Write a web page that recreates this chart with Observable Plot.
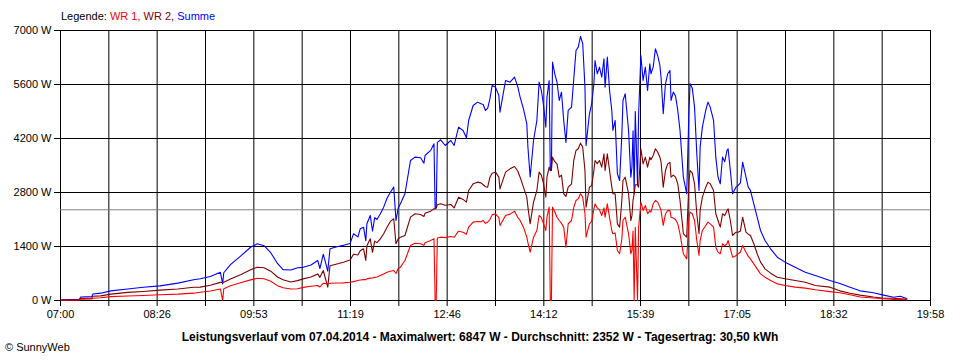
<!DOCTYPE html>
<html>
<head>
<meta charset="utf-8">
<script src="https://cdn.jsdelivr.net/npm/d3@7"></script>
<script src="https://cdn.jsdelivr.net/npm/@observablehq/plot@0.6"></script>
<style>
  body { margin: 0; background: #fff; font-family: "Liberation Sans", Arial, sans-serif; }
  #wrap { position: relative; width: 960px; height: 360px; overflow: hidden; }
  #chart { position: absolute; left: 0; top: 0; }
  .legend { position: absolute; left: 61px; top: 10px; font-size: 11px; line-height: 13px; white-space: nowrap; }
  .caption { position: absolute; left: 0; top: 330px; width: 960px; text-align: center; font-size: 12px; font-weight: bold; line-height: 14px; white-space: nowrap; }
  .copy { position: absolute; left: 5px; top: 341px; font-size: 11px; line-height: 13px; }
</style>
</head>
<body>
<div id="wrap">
  <div id="chart"></div>
  <div class="legend"><span style="color:#000">Legende: </span><span style="color:#ff0000">WR 1, </span><span style="color:#800000">WR 2, </span><span style="color:#0000ff">Summe</span></div>
  <div class="caption">Leistungsverlauf vom 07.04.2014 - Maximalwert: 6847 W - Durchschnitt: 2352 W - Tagesertrag: 30,50 kWh</div>
  <div class="copy">© SunnyWeb</div>
</div>
<script>
const times = ["07:01","07:17","07:18","07:28","07:29","07:36","07:45","08:00","08:14","08:29","08:45","08:59","09:05","09:14","09:23","09:25","09:26","09:32","09:41","09:50","09:56","10:02","10:08","10:14","10:19","10:26","10:32","10:37","10:44","10:50","10:52","10:55","10:59","11:01","11:08","11:13","11:19","11:22","11:26","11:28","11:31","11:33","11:34","11:37","11:39","11:41","11:43","11:46","11:49","11:52","11:55","11:58","12:00","12:02","12:04","12:08","12:13","12:17","12:22","12:25","12:26","12:31","12:34","12:35","12:36","12:37","12:40","12:44","12:49","12:52","12:56","13:00","13:03","13:05","13:09","13:13","13:16","13:18","13:20","13:22","13:24","13:26","13:29","13:32","13:33","13:38","13:42","13:46","13:49","13:51","13:54","13:57","13:58","14:00","14:03","14:06","14:08","14:10","14:12","14:14","14:15","14:17","14:18","14:19","14:20","14:22","14:24","14:26","14:28","14:30","14:32","14:34","14:37","14:39","14:41","14:43","14:45","14:47","14:49","14:50","14:53","14:55","14:57","14:58","15:00","15:02","15:04","15:06","15:07","15:09","15:11","15:13","15:14","15:16","15:18","15:20","15:22","15:23","15:25","15:28","15:30","15:31","15:32","15:33","15:34","15:36","15:37","15:39","15:41","15:43","15:45","15:47","15:48","15:50","15:52","15:54","15:56","15:57","15:59","16:01","16:03","16:05","16:06","16:08","16:10","16:12","16:14","16:17","16:20","16:22","16:23","16:25","16:27","16:29","16:31","16:32","16:34","16:37","16:39","16:41","16:44","16:46","16:48","16:50","16:52","16:54","16:56","16:57","16:59","17:01","17:04","17:06","17:08","17:10","17:13","17:15","17:17","17:20","17:23","17:26","17:30","17:35","17:41","17:48","17:57","18:06","18:15","18:28","18:37","18:46","18:55","19:07","19:16","19:25","19:31","19:36","19:37"];

const summe = [20,30,90,100,170,190,250,300,345,380,450,540,562,620,730,430,720,930,1150,1380,1470,1420,1240,960,800,790,850,860,920,1037,830,1200,760,1340,1400,1430,1480,1729,1650,1858,1900,1550,1988,2204,1800,2150,2100,2248,2420,2650,2808,2938,2074,2400,2507,2766,3630,3716,3700,3560,3760,3890,4063,2377,2400,4100,4166,4019,4149,4019,4494,4408,4218,4667,5056,5143,5100,5080,4927,4980,5230,5575,5531,5316,4883,5705,5661,5791,5531,5273,4970,4581,3975,3200,4149,4667,5661,5445,5056,4494,5273,5705,3371,3371,6179,5878,5661,5186,5400,4667,4100,4927,5013,5748,6482,6569,6847,6656,5531,4019,4841,5100,5618,6223,5878,6050,5791,6267,5531,6309,5445,4927,4408,4667,3285,3111,4300,5186,5359,4408,3197,3457,4400,2766,4900,3000,4841,6353,5705,6050,5445,6137,5878,6050,6526,6353,6093,5800,4841,5618,5878,5964,5186,5402,5300,4927,4408,3197,2766,4927,5618,5500,5013,3803,2852,3975,4494,4927,5143,5013,4667,3716,3197,3025,3716,3600,3890,3933,3371,2766,2938,2982,3050,3586,3197,2938,2852,2507,2160,1815,1556,1340,1123,994,864,734,648,519,441,346,250,200,140,86,112,60,40];

const wr2 = [12,18,55,60,110,120,165,210,235,270,300,345,346,395,470,470,475,560,670,795,864,850,760,610,540,480,515,560,610,690,600,778,346,900,951,994,1050,1200,1180,1290,1340,1040,1420,1599,1250,1540,1500,1599,1729,1900,2050,2118,1470,1600,1642,1685,2160,2248,2230,2180,2260,2316,2377,2377,2400,2480,2507,2470,2490,2400,2679,2620,2549,2852,3025,3068,3050,3000,2950,2938,3197,3300,3327,3200,2895,3327,3414,3474,3350,3197,2938,2679,2420,1988,2549,2852,3327,3250,3025,2679,3197,3457,3371,3371,3716,3600,3543,3197,3250,2766,2700,2938,3025,3630,3890,3933,4079,3975,3371,2420,2938,2980,3371,3630,3550,3630,3457,3803,3371,3803,3371,2938,2766,2766,1988,1901,2600,3111,3197,2766,2074,2200,2600,2766,3000,3000,2938,3933,3543,3716,3457,3716,3650,3760,3933,3850,3716,3600,2938,3371,3543,3580,3197,3250,3197,3025,2593,1729,1642,3111,3371,3300,3025,2248,1729,2334,2679,2938,3068,3025,2852,2248,2074,1901,2248,2200,2334,2377,2074,1685,1771,1771,1800,2160,1771,1720,1685,1470,1211,994,821,708,605,562,519,475,389,346,250,190,140,90,60,60,43,30];

const wr1 = [8,12,35,40,60,70,100,115,128,150,165,190,215,245,300,0,305,380,460,535,575,565,500,385,330,300,305,340,370,390,350,449,430,447,455,458,475,490,519,530,540,540,560,580,585,600,610,648,690,734,760,778,700,830,864,1037,1426,1486,1470,1430,1500,1556,1600,0,0,1620,1642,1630,1659,1640,1797,1770,1720,1901,2031,2050,2040,2074,2000,2030,2100,2220,2248,2150,1945,2204,2240,2316,2150,2074,1901,1642,1500,1253,1642,1815,2204,2150,1988,1815,2160,2420,0,0,2420,2300,2160,2074,2000,1901,1383,1990,2074,2420,2593,2636,2766,2679,2248,1642,1988,2050,2377,2507,2400,2350,2204,2400,2160,2507,2150,1815,1729,1750,1296,1211,1600,2074,2160,1729,1211,1300,1800,0,1900,0,1900,2549,2334,2463,2250,2330,2290,2507,2593,2550,2420,2330,1945,2248,2334,2330,2160,2140,2100,1988,1729,1211,1080,2160,2290,2250,2074,1556,1167,1556,1815,1945,2031,1988,1901,1383,1253,1211,1470,1420,1470,1556,1340,1123,1160,1211,1250,1426,1250,1150,1080,951,821,691,605,519,432,389,346,320,277,230,200,150,90,65,45,26,35,26,15];

const yTicks = [0, 1400, 2800, 4200, 5600, 7000];
const xLabels = ["07:00","08:26","09:53","11:19","12:46","14:12","15:39","17:05","18:32","19:58"];
const average = [2352];

const toDate = s => { const [h, m] = s.split(":").map(Number); return new Date(Date.UTC(2014, 3, 7, h, m)); };
const start = toDate("07:00"), end = toDate("19:58");
const xTicks = d3.range(19).map(k => new Date(+start + k * (end - start) / 18));

const rows = times.map((t, i) => ({ time: toDate(t), summe: summe[i], wr1: wr1[i], wr2: wr2[i] }));

const chart = Plot.plot({
  width: 960,
  height: 360,
  marginTop: 30,
  marginBottom: 60,
  marginLeft: 60,
  marginRight: 30,
  style: { fontFamily: '"Liberation Sans", Arial, sans-serif', fontSize: "11px", color: "#000", background: "transparent" },
  x: {
    type: "utc",
    domain: [start, end],
    ticks: xTicks,
    tickSize: 6,
    tickPadding: 4,
    tickFormat: d => { const i = xTicks.findIndex(t => +t === +d); return i % 2 === 0 ? xLabels[i / 2] : ""; },
    label: null
  },
  y: {
    domain: [0, 7000],
    ticks: yTicks,
    tickSize: 6,
    tickPadding: 3,
    tickFormat: d => d + " W",
    label: null
  },
  marks: [
    Plot.ruleX(xTicks, { stroke: "#000", strokeWidth: 1 }),
    Plot.ruleY(yTicks, { stroke: "#000", strokeWidth: 1 }),
    Plot.ruleY(average, { stroke: "#808080", strokeWidth: 1 }),
    Plot.line(rows, { x: "time", y: "summe", stroke: "#0000ff", strokeWidth: 1.1 }),
    Plot.line(rows, { x: "time", y: "wr2", stroke: "#800000", strokeWidth: 1.1 }),
    Plot.line(rows, { x: "time", y: "wr1", stroke: "#ff0000", strokeWidth: 1.1 })
  ]
});
document.getElementById("chart").appendChild(chart);
</script>
</body>
</html>
